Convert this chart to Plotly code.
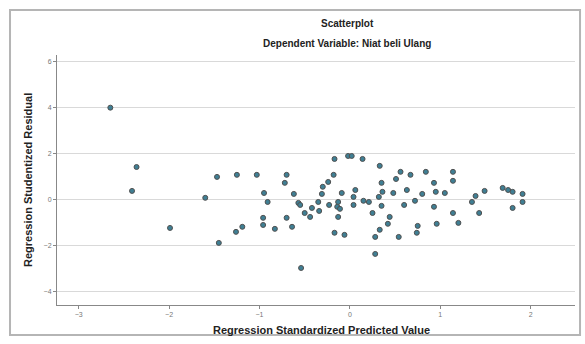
import plotly.graph_objects as go

# Regression Standardized Predicted Value
pred = [-2.65, -2.36, -2.41, -1.99, -1.60, -1.47, -1.25, -1.45, -1.26, -1.19,
        -1.03, -0.70, -0.72, -0.95, -0.91, -0.96, -0.96, -0.83, -0.70, -0.64,
        -0.62, -0.57, -0.55, -0.50, -0.44, -0.42, -0.34, -0.35, -0.31, -0.30,
        -0.24, -0.18, -0.17, -0.23, -0.14, -0.13, -0.11, -0.13, -0.09, -0.17,
        -0.06, -0.02, -0.54,
        0.02, 0.14, 0.33, 0.06, 0.04, 0.04, 0.15, 0.21, 0.32, 0.35,
        0.36, 0.48, 0.35, 0.25, 0.44, 0.42, 0.33, 0.28, 0.28, 0.51,
        0.56, 0.67, 0.63, 0.60, 0.54, 0.72, 0.80, 0.75, 0.74, 0.84,
        0.93, 0.95, 0.93, 0.96, 1.05,
        1.14, 1.14, 1.14, 1.20, 1.35, 1.39, 1.49, 1.43, 1.69, 1.75,
        1.80, 1.91, 1.91, 1.80]
# Regression Studentized Residual
resid = [4.01, 1.43, 0.39, -1.22, 0.09, 1.00, 1.09, -1.87, -1.39, -1.17,
         1.09, 1.09, 0.74, 0.30, -0.09, -0.78, -1.09, -1.26, -0.78, -1.17,
         0.26, -0.13, -0.22, -0.57, -0.74, -0.35, -0.48, -0.09, 0.26, 0.57,
         0.78, 1.09, 1.78, -0.22, -0.30, -0.09, -0.39, -0.74, 0.30, -1.43,
         -1.52, 1.91, -2.96,
         1.91, 1.78, 1.48, 0.43, 0.13, -0.22, -0.04, -0.09, 0.13, 0.74,
         0.35, 0.30, -0.26, -0.57, -0.74, -1.04, -1.30, -1.61, -2.35, 0.91,
         1.22, 1.09, 0.43, -0.22, -1.61, -0.04, 0.26, -1.13, -1.43, 1.22,
         0.74, 0.35, -0.30, -1.04, 0.30,
         1.22, 0.83, -0.57, -1.00, -0.09, 0.17, 0.39, -0.57, 0.52, 0.43,
         0.35, 0.26, -0.09, -0.35]

x_ticks = [-3, -2, -1, 0, 1, 2]
y_ticks = [-4, -2, 0, 2, 4, 6]

fig = go.Figure()
fig.add_trace(go.Scatter(
    x=pred, y=resid, mode="markers",
    marker=dict(size=5, color="#3f7f94", line=dict(color="#505050", width=1)),
    showlegend=False, hoverinfo="x+y",
))

fig.update_layout(
    width=585, height=344,
    margin=dict(l=57, r=10, t=55, b=39),
    paper_bgcolor="white", plot_bgcolor="white",
    font=dict(family="Liberation Sans, Arial, sans-serif", color="#333"),
    xaxis=dict(range=[-3.24, 2.49], tickvals=x_ticks, showgrid=False, zeroline=False,
               showline=True, linecolor="#888", linewidth=1, ticks="outside",
               ticklen=3, tickcolor="#888", tickfont=dict(size=7, color="#777")),
    yaxis=dict(range=[-4.57, 6.3], tickvals=y_ticks, showgrid=True, gridcolor="#d9d9d9",
               gridwidth=1, zeroline=False, showline=True, linecolor="#888", linewidth=1,
               ticks="outside", ticklen=3, tickcolor="#888", tickfont=dict(size=7, color="#777")),
    shapes=[dict(type="rect", xref="paper", yref="paper", x0=-0.0907, x1=1.0097,
                 y0=-0.12, y1=1.18, line=dict(color="#b5b5b5", width=2), layer="below")],
    annotations=[
        dict(text="<b>Scatterplot</b>", xref="paper", yref="paper", x=0.56, y=1.124,
             yanchor="middle", showarrow=False, font=dict(size=10, color="#222")),
        dict(text="<b>Dependent Variable: Niat beli Ulang</b>", xref="paper", yref="paper",
             x=0.56, y=1.044, yanchor="middle", showarrow=False, font=dict(size=10, color="#222")),
        dict(text="<b>Regression Standardized Predicted Value</b>", xref="paper", yref="paper",
             x=0.51, y=-0.1, yanchor="middle", showarrow=False, font=dict(size=11, color="#222")),
        dict(text="<b>Regression Studentized Residual</b>", xref="paper", yref="paper",
             x=-0.056, y=0.5, xanchor="center", yanchor="middle", textangle=-90,
             showarrow=False, font=dict(size=11, color="#222")),
    ],
)

fig.write_html("out.html")
